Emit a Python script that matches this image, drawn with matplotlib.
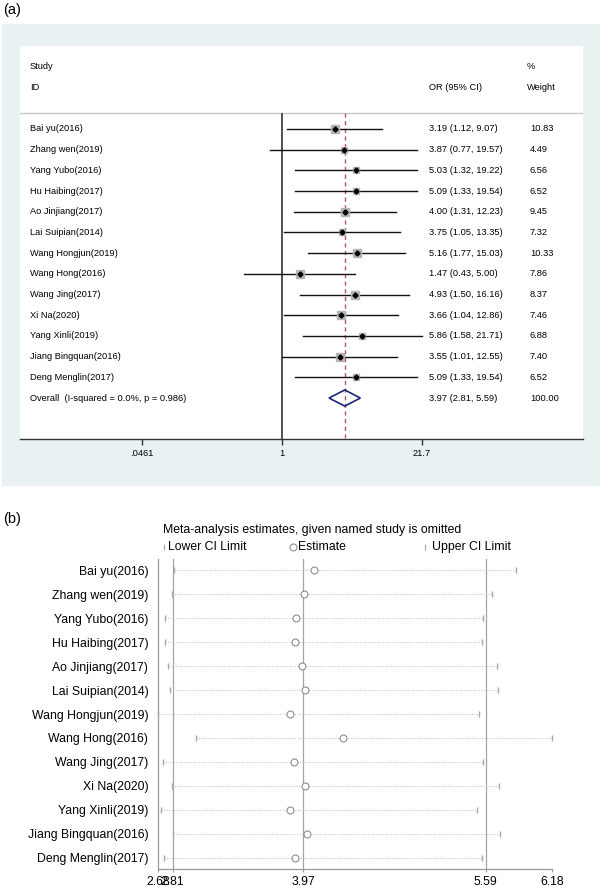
import matplotlib
matplotlib.use("Agg")
import matplotlib.pyplot as plt
from matplotlib.patches import Rectangle, Polygon
from matplotlib.lines import Line2D
from matplotlib.ticker import NullLocator
from matplotlib.transforms import blended_transform_factory

plt.rcParams['font.family'] = ['Liberation Sans', 'DejaVu Sans']

# ---- panel (a): forest plot data ----
studies = ["Bai yu(2016)", "Zhang wen(2019)", "Yang Yubo(2016)", "Hu Haibing(2017)",
           "Ao Jinjiang(2017)", "Lai Suipian(2014)", "Wang Hongjun(2019)", "Wang Hong(2016)",
           "Wang Jing(2017)", "Xi Na(2020)", "Yang Xinli(2019)", "Jiang Bingquan(2016)",
           "Deng Menglin(2017)"]
odds = [3.19, 3.87, 5.03, 5.09, 4.00, 3.75, 5.16, 1.47, 4.93, 3.66, 5.86, 3.55, 5.09]
ci_low = [1.12, 0.77, 1.32, 1.33, 1.31, 1.05, 1.77, 0.43, 1.50, 1.04, 1.58, 1.01, 1.33]
ci_high = [9.07, 19.57, 19.22, 19.54, 12.23, 13.35, 15.03, 5.00, 16.16, 12.86, 21.71, 12.55, 19.54]
weights = [10.83, 4.49, 6.56, 6.52, 9.45, 7.32, 10.33, 7.86, 8.37, 7.46, 6.88, 7.40, 6.52]
overall = (3.97, 2.81, 5.59)
overall_weight = 100.00
overall_label = "Overall  (I-squared = 0.0%, p = 0.986)"
a_ticks = [0.0461, 1, 21.7]
a_ticklabels = [".0461", "1", "21.7"]

# ---- panel (b): leave-one-out estimates ----
omit_est = [4.07, 3.98, 3.91, 3.90, 3.96, 3.99, 3.85, 4.32, 3.89, 3.99, 3.85, 4.00, 3.90]
omit_low = [2.82, 2.80, 2.74, 2.74, 2.77, 2.79, 2.68, 3.02, 2.72, 2.80, 2.71, 2.81, 2.73]
omit_high = [5.86, 5.65, 5.57, 5.56, 5.69, 5.70, 5.53, 6.18, 5.57, 5.71, 5.51, 5.72, 5.56]
b_ticks = [2.68, 2.81, 3.97, 5.59, 6.18]
b_ticklabels = ["2.68", "2.81", "3.97", "5.59", "6.18"]

W, H = 600, 889
fig = plt.figure(figsize=(W / 100, H / 100), dpi=100)


def fbox(x0, y0, x1, y1):
    return [x0 / W, 1 - y1 / H, (x1 - x0) / W, (y1 - y0) / H]


# light background of panel (a)
fig.patches.append(Rectangle((2 / W, 1 - 485 / H), 597 / W, 461 / H,
                             transform=fig.transFigure, color='#E9F1F3', zorder=-1))
fig.text(3 / W, 1 - 10 / H, "(a)", fontsize=10.5, va='center', ha='left')
fig.text(3 / W, 1 - 519 / H, "(b)", fontsize=10.5, va='center', ha='left')

# ---------------- (a) ----------------
ax1 = fig.add_axes(fbox(20, 46, 583, 439))
ax1.set_facecolor('white')
ax1.set_xscale('log')
ax1.set_xlim(10 ** ((20 - 282) / 104.8), 10 ** ((583 - 282) / 104.8))
n = len(studies)
ax1.set_ylim(14.98, -4.01)
for s in ['top', 'left', 'right']:
    ax1.spines[s].set_visible(False)
ax1.spines['bottom'].set_color('#333333')
ax1.spines['bottom'].set_linewidth(1.0)
ax1.set_yticks([])
ax1.set_xticks(a_ticks)
ax1.set_xticklabels(a_ticklabels, fontsize=6.7)
ax1.xaxis.set_minor_locator(NullLocator())
ax1.tick_params(axis='x', length=4, width=1, color='#333333', pad=3)

header_y = -0.77
ax1.axhline(header_y, color='#C8C8C8', lw=1.0)
ax1.vlines(1, header_y, 14.98, color='#222222', lw=1.1, zorder=2)
ax1.vlines(overall[0], header_y, 14.98, color='#B5545C', lw=1.0,
           linestyles=(0, (3, 2.5)), zorder=2)

rows = list(range(n))
for i in rows:
    ax1.plot([ci_low[i], ci_high[i]], [i, i], color='#111111', lw=1.0, zorder=3)
    side = 6.1 * (weights[i] / 10.83) ** 0.5
    ax1.plot(odds[i], i, marker='s', ms=side, mfc='#B4B4B4', mec='#B4B4B4', zorder=4)
    ax1.plot(odds[i], i, marker='D', ms=2.6, color='black', zorder=5)

h = 0.39
ax1.add_patch(Polygon([(overall[1], n), (overall[0], n - h), (overall[2], n), (overall[0], n + h)],
                      closed=True, fill=False, edgecolor='#1C2678', lw=1.2, zorder=5))

tr = blended_transform_factory(ax1.transAxes, ax1.transData)


def fx(px):
    return (px - 20) / 563


fs = 6.7
ax1.text(fx(30), -3, "Study", transform=tr, fontsize=fs, va='center')
ax1.text(fx(30), -2, "ID", transform=tr, fontsize=fs, va='center')
ax1.text(fx(429), -2, "OR (95% CI)", transform=tr, fontsize=fs, va='center')
ax1.text(fx(527), -3, "%", transform=tr, fontsize=fs, va='center')
ax1.text(fx(527), -2, "Weight", transform=tr, fontsize=fs, va='center')
for i in rows:
    ax1.text(fx(30), i, studies[i], transform=tr, fontsize=fs, va='center')
    ax1.text(fx(429), i, f"{odds[i]:.2f} ({ci_low[i]:.2f}, {ci_high[i]:.2f})",
             transform=tr, fontsize=fs, va='center')
    ax1.text(fx(530), i, f"{weights[i]:.2f}", transform=tr, fontsize=fs, va='center')
ax1.text(fx(30), n, overall_label, transform=tr, fontsize=fs, va='center')
ax1.text(fx(429), n, f"{overall[0]:.2f} ({overall[1]:.2f}, {overall[2]:.2f})",
         transform=tr, fontsize=fs, va='center')
ax1.text(fx(530), n, f"{overall_weight:.2f}", transform=tr, fontsize=fs, va='center')

# ---------------- (b) ----------------
ax2 = fig.add_axes(fbox(158, 559, 552, 869))
ax2.set_xlim(b_ticks[0], b_ticks[-1])
ax2.set_ylim(n - 1 + 0.46, -0.46)
for s in ['top', 'right']:
    ax2.spines[s].set_visible(False)
for s in ['left', 'bottom']:
    ax2.spines[s].set_color('#9A9A9A')
    ax2.spines[s].set_linewidth(0.9)
ax2.set_xticks(b_ticks)
ax2.set_xticklabels(b_ticklabels, fontsize=8.8)
ax2.tick_params(axis='x', length=2.5, width=0.8, color='#9A9A9A', pad=2.5)
ax2.set_yticks(rows)
ax2.set_yticklabels(studies, fontsize=8.8)
ax2.tick_params(axis='y', length=0, pad=7)

for v in overall:
    ax2.axvline(v, color='#A5A5A5', lw=0.9, zorder=1)
for i in rows:
    ax2.plot([omit_low[i], omit_high[i]], [i, i], color='#BDBDBD', lw=0.7,
             linestyle=(0, (1, 1.6)), zorder=2)
    ax2.plot([omit_low[i], omit_high[i]], [i, i], linestyle='none', marker='|', ms=4.5,
             mew=1.0, color='#A8A8A8', zorder=3, clip_on=False)
    ax2.plot(omit_est[i], i, marker='o', ms=5, mfc='white', mec='#8E8E8E', mew=0.8, zorder=4)

fig.text(163 / W, 1 - 530 / H, "Meta-analysis estimates, given named study is omitted",
         fontsize=8.8, va='center', ha='left')
ly = 1 - 547 / H
fig.add_artist(Line2D([164 / W], [ly], marker='|', ms=4.5, mew=0.9, color='#A8A8A8',
                      transform=fig.transFigure))
fig.add_artist(Line2D([293 / W], [ly], marker='o', ms=5, mfc='white', mec='#8E8E8E', mew=0.8,
                      transform=fig.transFigure))
fig.add_artist(Line2D([425 / W], [ly], marker='|', ms=4.5, mew=0.9, color='#A8A8A8',
                      transform=fig.transFigure))
fig.text(168 / W, ly, "Lower CI Limit", fontsize=8.8, va='center', ha='left')
fig.text(298 / W, ly, "Estimate", fontsize=8.8, va='center', ha='left')
fig.text(432 / W, ly, "Upper CI Limit", fontsize=8.8, va='center', ha='left')

fig.savefig("out.png", dpi=100)
